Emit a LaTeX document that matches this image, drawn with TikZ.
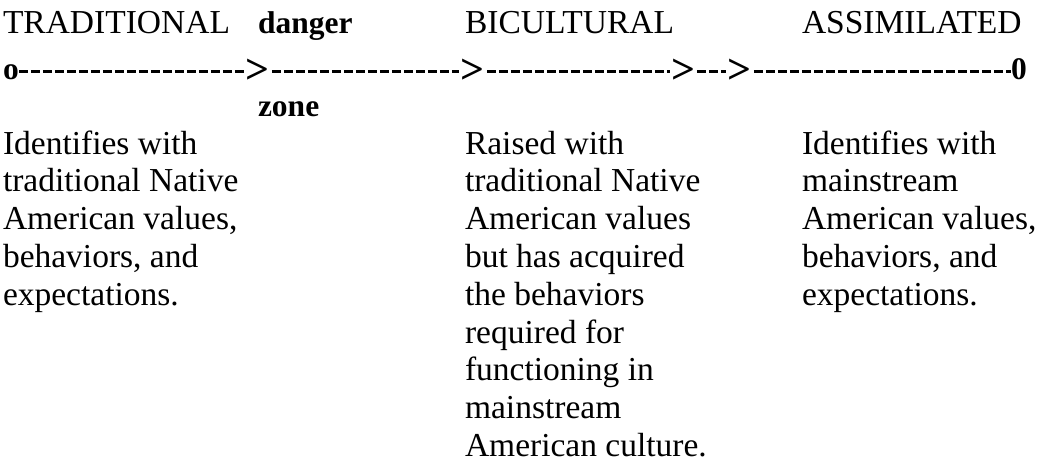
\documentclass[tikz,border=0pt]{standalone}
\usepackage{fontspec}
\setmainfont{Liberation Serif}
\newcommand{\colbox}[1]{\begin{tabular}[t]{@{}l@{}}#1\end{tabular}}
\tikzset{
  lbl/.style={inner sep=0pt, outer sep=0pt, anchor=base west, font=\fontsize{33.5}{37.8}\selectfont},
  blbl/.style={inner sep=0pt, outer sep=0pt, anchor=base west, font=\fontsize{31.5}{37.8}\selectfont\bfseries},
  gt/.style={inner sep=0pt, outer sep=0pt, anchor=base west, font=\fontsize{42}{37.8}\selectfont\bfseries},
  body/.style={lbl},
  dashline/.style={line width=2.8pt, dash pattern=on 9pt off 3pt, line cap=butt},
}
\begin{document}
\begin{tikzpicture}[x=1pt,y=-1pt]
\useasboundingbox (0,0) rectangle (1042,463);
% headings
\node[lbl]  (trad) at (3,33)   {TRADITIONAL};
\node[blbl] (dang) at (258,33) {danger};
\node[lbl]  (bic)  at (465,33) {BICULTURAL};
\node[lbl]  (assim) at (802,33) {ASSIMILATED};
% continuum
\node[blbl] (e1) at (3,79)    {o};
\node[gt]   (g1) at (245,83)  {>};
\node[gt]   (g2) at (460,83)  {>};
\node[gt]   (g3) at (671,83)  {>};
\node[gt]   (g4) at (727,83)  {>};
\node[blbl] (e2) at (1011,79) {0};
\draw[dashline] ([yshift=7.5pt]e1.base east) -- ([yshift=11.5pt,xshift=-1pt]g1.base west);
\draw[dashline] ([yshift=11.5pt,xshift=3pt]g1.base east) -- ([yshift=11.5pt,xshift=-1pt]g2.base west);
\draw[dashline] ([yshift=11.5pt,xshift=3pt]g2.base east) -- ([yshift=11.5pt,xshift=-1pt]g3.base west);
\draw[dashline] ([yshift=11.5pt,xshift=2pt]g3.base east) -- ([yshift=11.5pt,xshift=-1pt]g4.base west);
\draw[dashline] ([yshift=11.5pt,xshift=3pt]g4.base east) -- ([yshift=7.5pt]e2.base west);
\node[blbl] (zone) at (258,116) {zone};
% descriptions
\node[body] (d1) at (3,154) {\colbox{Identifies with\\traditional Native\\American values,\\behaviors, and\\expectations.}};
\node[body] (d2) at (465,154) {\colbox{Raised with\\traditional Native\\American values\\but has acquired\\the behaviors\\required for\\functioning in\\mainstream\\American culture.}};
\node[body] (d3) at (802,154) {\colbox{Identifies with\\mainstream\\American values,\\behaviors, and\\expectations.}};
\end{tikzpicture}
\end{document}
